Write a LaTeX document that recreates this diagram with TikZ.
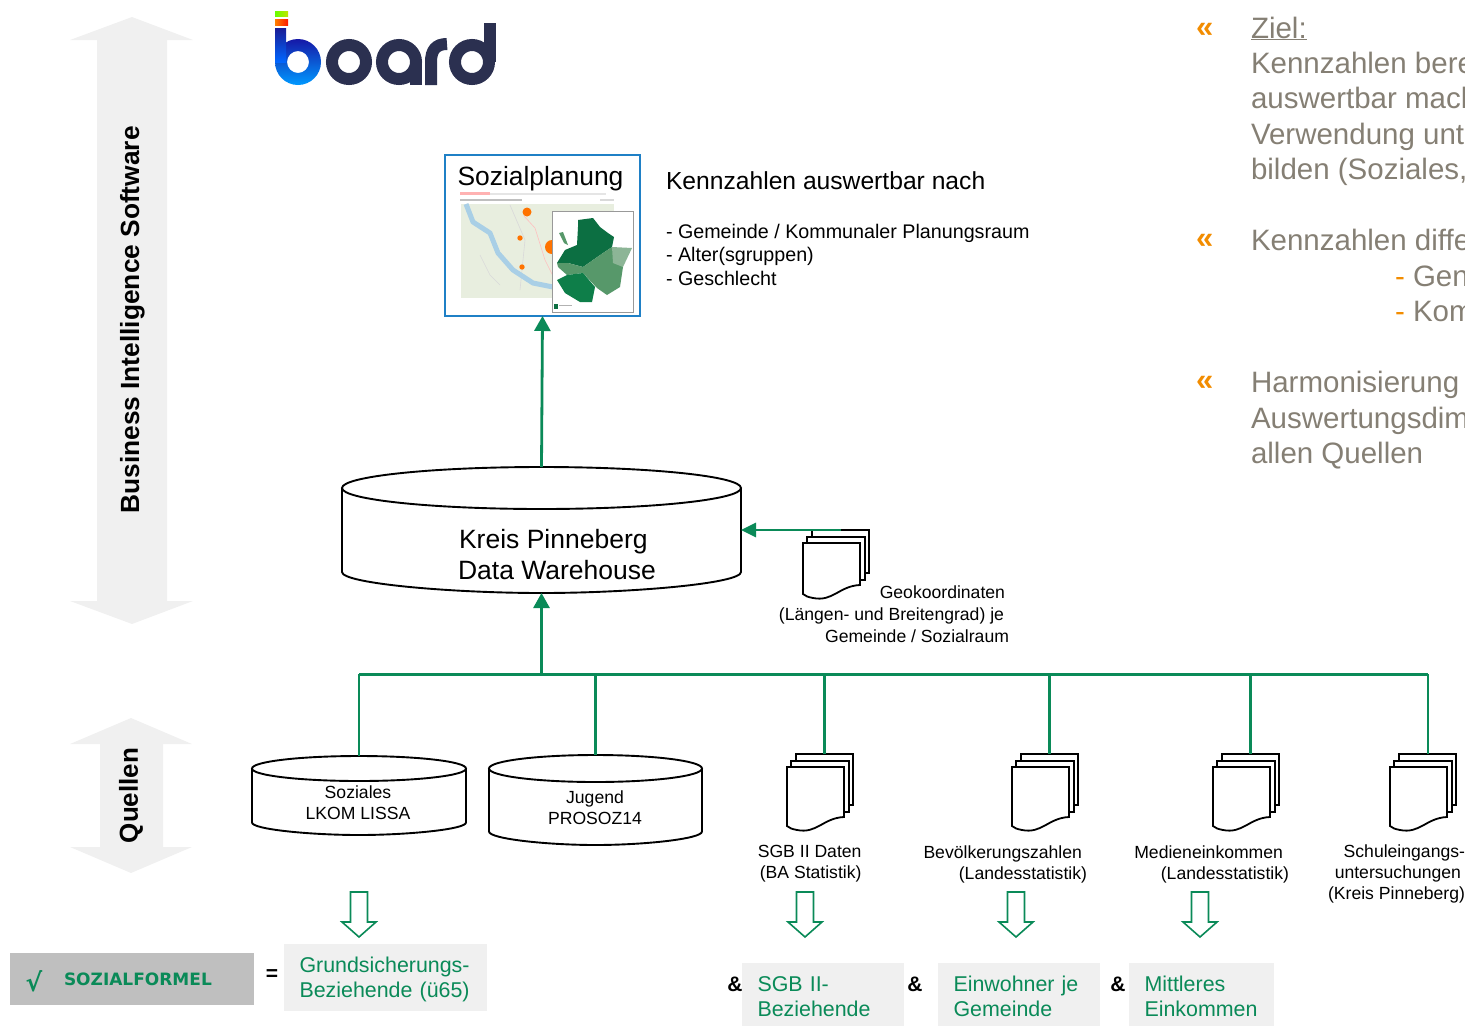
\documentclass[tikz,border=0pt]{standalone}
\usepackage{fontspec}
\setmainfont{Liberation Sans}
\newfontfamily\dejavu{DejaVu Sans}
\usetikzlibrary{arrows.meta}
\definecolor{grn}{HTML}{0A8A58}
\definecolor{lgray}{HTML}{F0F0F0}
\definecolor{warm}{HTML}{857F74}
\definecolor{orng}{HTML}{F28C00}
\definecolor{navy}{HTML}{2B3050}
\definecolor{bluebox}{HTML}{1F80C6}
\definecolor{mapbg}{HTML}{E8EEDF}
\definecolor{river}{HTML}{A9CFE6}
\definecolor{gdark}{HTML}{0C6F42}
\definecolor{gmid}{HTML}{57986A}
\definecolor{glight}{HTML}{8CB596}
\definecolor{gsouth}{HTML}{0E7E49}
\newcommand\fs[1]{\fontsize{#1}{#1}\selectfont}
\tikzset{
  conn/.style={draw=grn,line width=2.6pt},
  connbus/.style={draw=grn,line width=3pt},
  connar/.style={draw=grn,line width=2.8pt,-{Triangle[length=15pt,width=16pt]}},
  lbl/.style={inner sep=0pt,outer sep=0pt,text=black},
  small/.style={lbl,font=\fs{17.6},align=right},
  dblarrow/.style={fill=lgray,draw=none},
  hollow/.style={draw=grn,fill=white,line width=1.6pt},
  greenbox/.style={fill=lgray,anchor=north west,inner ysep=0pt,inner xsep=15.5pt,align=left,text=grn,font=\fs{21.4},outer sep=0pt},
  amp/.style={lbl,font=\bfseries\fs{21}},
  warmtext/.style={lbl,text=warm,font=\fs{29.5},anchor=base west},
  guill/.style={lbl,text=orng,font=\bfseries\fs{31},anchor=base west},
  cylbox/.style={inner sep=0pt,outer sep=0pt},
  page/.style={draw=black,fill=white,line width=1.8pt,line join=miter},
  backpage/.style={page,inner sep=0pt,outer sep=0pt,anchor=north west,minimum width=57pt},
  logo/.style={draw=navy,line width=12pt},
}
% name, x1, ytop, x2, ybot, ry
\newcommand\cyl[6]{%
  \pgfmathsetmacro\cw{#4-#2}\pgfmathsetmacro\ch{#5-#3}%
  \pgfmathsetmacro\cx{(#2+#4)/2}\pgfmathsetmacro\cy{(#3+#5)/2}%
  \pgfmathsetmacro\rx{\cw/2}\pgfmathsetmacro\st{#3+#6}\pgfmathsetmacro\sb{#5-#6}%
  \pgfmathsetmacro\ka{\rx*0.45}\pgfmathsetmacro\kb{#6*0.55}%
  \node[cylbox,minimum width=\cw pt,minimum height=\ch pt] (#1) at (\cx,\cy) {};
  \draw[page,line width=1.9pt] (#2,\st) -- (#2,\sb) .. controls (#2,\sb+\kb) and (\cx-\ka,#5) .. (\cx,#5)
     .. controls (\cx+\ka,#5) and (#4,\sb+\kb) .. (#4,\sb) -- (#4,\st);
  \draw[page,line width=1.9pt] (\cx,\st) ellipse [x radius=\rx,y radius=#6];
}
% name, x0, y0, H
\newcommand\docstack[4]{%
  \pgfmathsetmacro\bh{#4-25}%
  \node[backpage,minimum height=\bh pt] (#1) at (#2+9,#3) {};
  \draw[page] (#2+4,#3+7) rectangle (#2+62,#3+#4-18);
  \draw[page] (#2,#3+13) -- (#2+57,#3+13) -- (#2+57,#3+#4-13)
     .. controls (#2+36,#3+#4-12) and (#2+30,#3+#4+4) .. (#2+10,#3+#4) .. controls (#2+5,#3+#4-1) and (#2+2,#3+#4-2) .. (#2,#3+#4-4) -- cycle;
}
% xcentre
\newcommand\hollowarrow[1]{%
  \draw[hollow] (#1-8.5,892) -- (#1+8.5,892) -- (#1+8.5,922) -- (#1+17,922) -- (#1,937) -- (#1-17,922) -- (#1-8.5,922) -- cycle;
}
\begin{document}
\begin{tikzpicture}[x=1pt,y=-1pt]
\useasboundingbox (0,0) rectangle (1465,1026);
\begin{scope}
\clip (0,0) rectangle (1465,1026);
% big grey arrows
\fill[dblarrow] (132,17) -- (193,40) -- (167,40) -- (167,601) -- (193,601) -- (132,624) -- (70,601) -- (97,601) -- (97,40) -- (70,40) -- cycle;
\fill[dblarrow] (131,718) -- (192,744) -- (163,744) -- (163,847) -- (192,847) -- (131,873) -- (70,847) -- (100,847) -- (100,744) -- (70,744) -- cycle;
\node[lbl,rotate=90,font=\bfseries\fs{26.3}] (bi) at (132.5,320) {Business Intelligence Software};
\node[lbl,rotate=90,font=\bfseries\fs{26}] (quellen) at (131,795.5) {Quellen};

% logo
\shade[left color=green!60!yellow,right color=yellow!70!green!80!orange] (275,11) rectangle (288,16);
\shade[left color=orange,right color=red!80!orange] (275,19) rectangle (288,25);
\shade[even odd rule,top color=blue!50!navy,bottom color=cyan!60!blue] (298,62) circle [radius=23] (298,62) circle [radius=11];
\shade[top color=blue!40!navy,bottom color=blue!60!cyan] (275,28) rectangle (286,62);
\draw[logo] (349,62) circle [radius=17];
\draw[logo] (399,62) circle [radius=17];
\draw[logo] (416,62) -- (416,85);
\draw[logo] (431,85) -- (431,62) .. controls (431,50) and (436,44) .. (447,44);
\draw[logo] (472,62) circle [radius=17];
\draw[logo] (490,23) -- (490,62);

% Sozialplanung
\node[draw=bluebox,line width=2.2pt,fill=white,minimum width=195pt,minimum height=161pt,inner sep=0pt,outer sep=0pt] (soz) at (542.5,235.5) {};
\node[lbl,font=\fs{26.4}] (sozt) at (540.5,178.5) {Sozialplanung};
\fill[red!30] (460,192) rectangle (490,195);
\fill[black!10] (490,193) rectangle (606,195);
\fill[black!25] (460,199) rectangle (522,200.5);
\fill[black!15] (600,199) rectangle (614,200.5);
\fill[mapbg] (461,204) rectangle (614,298);
\draw[red!25,line width=.6pt] (524,216) -- (535,228) -- (545,260) -- (560,290);
\draw[black!15,line width=.6pt] (480,255) -- (490,275) -- (500,285);
\draw[black!15,line width=.6pt] (510,205) -- (525,240) -- (520,290);
\draw[river,line width=5pt,line join=round] (466,204) -- (473,222) -- (490,233) -- (498,253) -- (513,270) -- (533,283) -- (553,287);
\fill[orange!90!red] (527,212) circle [radius=4.5];
\fill[orange!90!red] (520,238) circle [radius=2.7];
\fill[orange!90!red] (522,267) circle [radius=2.7];
\fill[orange!90!red] (552,247) circle [radius=7];
\draw[black!40,fill=white,line width=.8pt] (552,211) rectangle (633,312);
\fill[gdark] (578,220) -- (593,218) -- (600,227) -- (608,233) -- (614,237) -- (612,247) -- (603,253) -- (583,267) -- (568,263) -- (557,263) -- (565,250) -- (577,245) -- (578,227) -- cycle;
\fill[gmid] (557,263) -- (568,263) -- (583,267) -- (603,253) -- (612,247) -- (620,260) -- (623,267) -- (620,287) -- (607,295) -- (597,288) -- (583,273) -- (567,275) -- (558,267) -- cycle;
\fill[glight] (612,247) -- (632,248) -- (623,267) -- (613,263) -- cycle;
\fill[gsouth] (557,280) -- (567,275) -- (583,273) -- (595,287) -- (592,302) -- (580,302) -- (565,293) -- cycle;
\fill[gmid] (559,233) -- (563,232) -- (568,245) -- (564,243) -- cycle;
\fill[gdark] (554,304) rectangle (558,309);
\fill[black!30] (559,305) rectangle (572,306);

\node[lbl,anchor=west,font=\fs{24.65}] (knz) at (666,181) {Kennzahlen auswertbar nach};
\node[lbl,anchor=north west,font=\fs{19.7},align=left] (knzl) at (666,224) {- Gemeinde / Kommunaler Planungsraum\\[3.7pt]- Alter(sgruppen)\\[3.7pt]- Geschlecht};

% right text
\node[guill] (g1) at (1196,37) {«};
\node[guill] (g2) at (1196,248) {«};
\node[guill] (g3) at (1196,390) {«};
\node[warmtext] (z1) at (1251,38) {\underline{Ziel:}};
\node[warmtext] (z2) at (1251,73) {Kennzahlen bere};
\node[warmtext] (z3) at (1251,108) {auswertbar mach};
\node[warmtext] (z4) at (1251,144) {Verwendung unt};
\node[warmtext] (z5) at (1251,179) {bilden (Soziales,};
\node[warmtext] (z6) at (1251,250) {Kennzahlen diffe};
\node[warmtext] (z7) at (1413,286) {Gen};
\node[warmtext] (z8) at (1413,321) {Kom};
\node[warmtext,text=orng] (d7) at (1395,286) {-};
\node[warmtext,text=orng] (d8) at (1395,321) {-};
\node[warmtext] (z9) at (1251,392) {Harmonisierung};
\node[warmtext] (z10) at (1251,428) {Auswertungsdim};
\node[warmtext] (z11) at (1251,463) {allen Quellen};

% cylinders
\cyl{kreis}{342}{467}{741}{593}{21}
\node[lbl,font=\fs{26.5},align=left] (kreist) at (557,554.5) {\hspace*{1pt}Kreis Pinneberg\\[4.5pt]Data Warehouse};
\cyl{sozi}{252}{756}{466}{835}{12.5}
\node[lbl,font=\fs{17.6},align=center] (sozit) at (358,802.5) {Soziales\\[3.5pt]LKOM LISSA};
\cyl{jug}{489}{755}{702}{845}{13.5}
\node[lbl,font=\fs{17.6},align=center] (jugt) at (595,807.5) {Jugend\\[3.5pt]PROSOZ14};

% document stacks
\docstack{geo}{803}{530}{68}
\docstack{sgb}{787}{754}{76}
\docstack{bev}{1012}{754}{76}
\docstack{med}{1213}{754}{76}
\docstack{sch}{1390}{754}{76}

\node[small,anchor=north east] (geot) at (1009,585.5) {Geokoordinaten\kern4pt\\[4.4pt](Längen- und Breitengrad) je\kern5pt\\[4.4pt]Gemeinde / Sozialraum};
\node[small,anchor=north east] (sgbt) at (861.5,845.5) {SGB II Daten\\[3.5pt](BA Statistik)};
\node[small,anchor=north east] (bevt) at (1087,845.5) {Bevölkerungszahlen\kern5pt\\[3.5pt](Landesstatistik)};
\node[small,anchor=north east] (medt) at (1289,845.5) {Medieneinkommen\kern6pt\\[3.5pt](Landesstatistik)};
\node[small,anchor=north east] (scht) at (1465,844.5) {Schuleingangs-\\[3.5pt]untersuchungen\kern4pt\\[3.5pt](Kreis Pinneberg)};

% connectors
\coordinate (busl) at (359,674);
\coordinate (busr) at (1428,674);
\draw[connar] (kreis.north) -- (soz.south);
\draw[connar] (busl -| kreis.south) -- (kreis.south);
\draw[conn] (sozi.north) -- (busl);
\draw[connbus] (busl) -- (busr);
\draw[conn] (busr) -- (sch.north -| busr);
\draw[conn] (jug.north) -- (jug.north |- busl);
\draw[conn] (sgb.north) -- (sgb.north |- busl);
\draw[conn] (bev.north) -- (bev.north |- busl);
\draw[conn] (med.north) -- (med.north |- busl);
\draw[draw=grn,line width=2.8pt,-{Triangle[length=15pt,width=14pt]}] (geo.north) -- (geo.north -| kreis.east);

% hollow arrows
\hollowarrow{359}
\hollowarrow{805}
\hollowarrow{1016}
\hollowarrow{1200}

% bottom
\node[fill=black!25,minimum width=244pt,minimum height=52pt,inner sep=0pt,outer sep=0pt] (formel) at (132,979) {};
\node[lbl,text=grn,font=\dejavu\bfseries\fs{25}] (chk) at (34,981) {√};
\node[lbl,text=grn,anchor=west,font=\dejavu\bfseries\fs{17}] (sf) at (64,979) {SOZIALFORMEL};
\node[lbl,font=\bfseries\fs{21}] (eq) at (272,975) {=};
\node[greenbox,minimum height=67pt,text width=172pt] (grund) at (284,944) {\rule{0pt}{19pt}Grundsicherungs-\\[3.6pt]Beziehende (ü65)};
\node[amp] (a1) at (735,984) {\&};
\node[amp] (a2) at (915,984) {\&};
\node[amp] (a3) at (1118,984) {\&};
\node[greenbox,minimum height=63pt,text width=131pt] (sgbb) at (742,963) {\rule{0pt}{19pt}SGB II-\\[3.6pt]Beziehende};
\node[greenbox,minimum height=63pt,text width=131pt] (einw) at (938,963) {\rule{0pt}{19pt}Einwohner je\\[3.6pt]Gemeinde};
\node[greenbox,minimum height=63pt,text width=114pt] (mitt) at (1129,963) {\rule{0pt}{19pt}Mittleres\\[3.6pt]Einkommen};
\end{scope}
\end{tikzpicture}
\end{document}
